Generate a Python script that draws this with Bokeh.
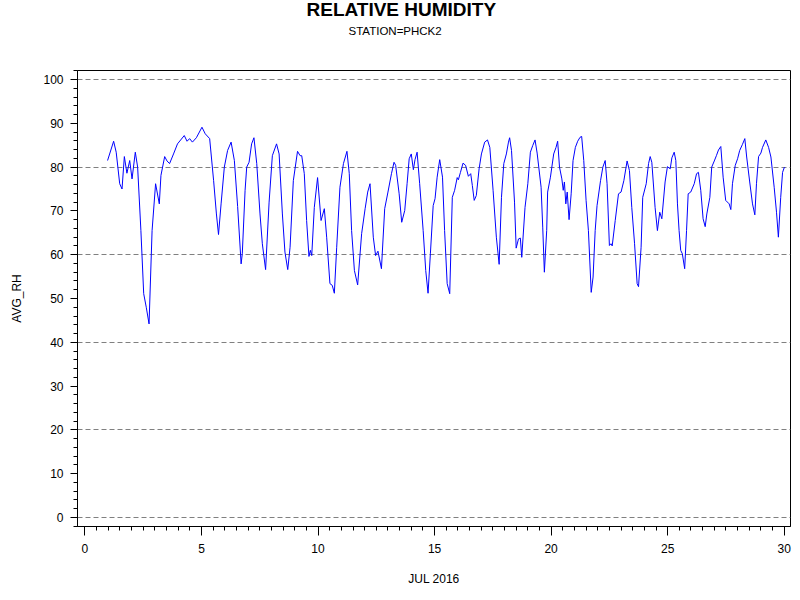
from bokeh.plotting import figure
from bokeh.models import Range1d, SingleIntervalTicker, FixedTicker, Title
from bokeh.embed import file_html
from bokeh.resources import INLINE

# day of month (JUL 2016) and average relative humidity
day = [0.97, 1.23, 1.34, 1.49, 1.59, 1.69, 1.80, 1.92, 2.02, 2.16, 2.26, 2.40, 2.52, 2.63, 2.75,
       2.88, 3.03, 3.19, 3.26, 3.42, 3.52, 3.63, 3.80, 3.97, 4.26, 4.38, 4.49, 4.61, 4.78, 5.02,
       5.16, 5.35, 5.52, 5.64, 5.73, 5.84, 5.98, 6.12, 6.27, 6.41, 6.55, 6.70, 6.75, 6.87, 6.94,
       7.04, 7.15, 7.25, 7.37, 7.51, 7.61, 7.75, 7.90, 8.04, 8.22, 8.33, 8.47, 8.58, 8.70, 8.80,
       8.94, 9.12, 9.23, 9.30, 9.41, 9.51, 9.61, 9.67, 9.73, 9.84, 9.98, 10.13, 10.27, 10.37, 10.51,
       10.61, 10.70, 10.80, 10.94, 11.09, 11.24, 11.34, 11.44, 11.56, 11.70, 11.87, 12.02, 12.13, 12.23, 12.37,
       12.47, 12.57, 12.72, 12.86, 13.00, 13.15, 13.26, 13.33, 13.48, 13.59, 13.72, 13.82, 13.91, 14.00, 14.09,
       14.16, 14.25, 14.36, 14.51, 14.62, 14.72, 14.82, 14.94, 15.02, 15.11, 15.22, 15.34, 15.43, 15.54, 15.65,
       15.76, 15.86, 15.97, 16.02, 16.11, 16.22, 16.33, 16.45, 16.55, 16.62, 16.70, 16.79, 16.91, 17.01, 17.15,
       17.27, 17.37, 17.51, 17.65, 17.77, 17.87, 17.97, 18.08, 18.17, 18.22, 18.30, 18.43, 18.50, 18.60, 18.68,
       18.74, 18.88, 19.00, 19.11, 19.21, 19.31, 19.40, 19.57, 19.64, 19.71, 19.81, 19.85, 19.97, 20.11, 20.21,
       20.28, 20.36, 20.46, 20.52, 20.57, 20.63, 20.69, 20.77, 20.86, 20.94, 21.04, 21.14, 21.24, 21.31, 21.40,
       21.50, 21.60, 21.72, 21.80, 21.89, 21.97, 22.12, 22.22, 22.32, 22.40, 22.50, 22.57, 22.62, 22.75, 22.89,
       23.00, 23.12, 23.26, 23.36, 23.46, 23.58, 23.69, 23.75, 23.86, 23.93, 24.08, 24.18, 24.25, 24.32, 24.46,
       24.56, 24.66, 24.75, 24.89, 24.99, 25.11, 25.18, 25.28, 25.35, 25.42, 25.49, 25.56, 25.63, 25.73, 25.81,
       25.88, 25.99, 26.14, 26.24, 26.32, 26.42, 26.52, 26.61, 26.68, 26.81, 26.89, 27.00, 27.09, 27.18, 27.28,
       27.38, 27.49, 27.64, 27.71, 27.78, 27.90, 28.00, 28.09, 28.21, 28.31, 28.39, 28.52, 28.64, 28.74, 28.81,
       28.90, 29.00, 29.07, 29.21, 29.33, 29.43, 29.57, 29.67, 29.75, 29.85, 29.93, 30.01]

avg_rh = [81.5, 85.9, 83.4, 76.2, 75.0, 82.4, 78.6, 81.5, 77.3, 83.4, 80.0, 65.5, 51.1, 48.0, 44.2,
          65.5, 76.2, 71.6, 78.1, 82.4, 81.4, 80.8, 83.0, 85.3, 87.2, 85.9, 86.5, 85.7, 86.7, 89.1,
          87.6, 86.5, 76.9, 69.3, 64.6, 71.6, 80.0, 83.8, 85.7, 81.5, 71.0, 57.9, 60.2, 74.7, 80.0,
          81.1, 85.3, 86.7, 80.8, 69.3, 62.5, 56.6, 72.0, 82.6, 85.3, 83.0, 69.3, 60.6, 56.6, 61.7,
          76.9, 83.6, 82.6, 82.6, 78.5, 67.8, 59.6, 61.0, 59.8, 70.8, 77.6, 67.8, 70.5, 64.0, 53.4,
          53.0, 51.2, 61.7, 75.4, 80.8, 83.6, 78.5, 65.5, 56.4, 53.1, 64.8, 70.5, 74.3, 76.2, 64.0,
          59.8, 60.8, 56.8, 70.5, 74.3, 78.5, 81.1, 80.4, 73.9, 67.4, 70.1, 76.2, 81.9, 83.0, 79.4,
          81.7, 83.4, 76.2, 65.5, 56.4, 51.2, 60.2, 71.2, 72.8, 77.7, 81.7, 77.7, 65.5, 53.4, 51.1,
          73.1, 74.7, 77.6, 77.1, 78.8, 80.9, 80.4, 77.9, 78.5, 75.8, 72.4, 73.5, 79.6, 83.0, 85.7,
          86.2, 84.5, 74.7, 64.0, 57.8, 73.1, 80.8, 83.0, 85.7, 86.7, 83.8, 72.0, 61.5, 63.6, 63.8,
          59.4, 70.8, 76.2, 83.4, 84.9, 86.2, 83.2, 75.4, 66.3, 56.0, 65.5, 74.3, 77.7, 83.0, 84.5,
          85.9, 80.0, 77.3, 74.7, 76.6, 71.6, 74.3, 68.0, 73.9, 81.5, 84.5, 85.9, 86.8, 87.0, 81.5,
          72.4, 65.5, 51.4, 54.9, 65.5, 71.2, 76.9, 80.0, 81.5, 76.2, 62.1, 62.5, 62.0, 67.8, 73.9,
          74.3, 76.9, 81.4, 79.2, 70.8, 62.5, 53.4, 52.7, 61.7, 73.1, 76.2, 80.8, 82.4, 81.1, 70.8,
          65.5, 69.7, 68.2, 76.6, 80.1, 79.6, 82.1, 83.4, 81.5, 71.6, 65.5, 61.0, 60.2, 56.8, 65.5,
          73.9, 74.3, 76.2, 78.5, 78.8, 74.7, 68.2, 66.4, 69.3, 73.1, 80.0, 81.4, 82.6, 83.9, 84.7,
          77.7, 72.4, 71.6, 70.3, 76.2, 80.4, 81.9, 83.8, 85.2, 86.5, 82.3, 76.6, 71.6, 69.1, 76.2,
          82.4, 83.2, 84.5, 86.2, 84.5, 82.3, 75.4, 69.7, 64.0, 73.1, 78.8, 80.0]

grid_ticks = [0, 20, 40, 60, 80, 100]

FONT = "Liberation Sans"

# frame: 77..790 across, 70..526 down
p = figure(width=792, height=592,
           x_range=Range1d(-0.32, 30.27), y_range=Range1d(-2.05, 102.05),
           x_axis_label="JUL 2016", y_axis_label="AVG_RH",
           output_backend="svg", toolbar_location=None, tools="",
           min_border_left=77, min_border_right=2, min_border_top=70, min_border_bottom=66)

# titles stack upward from the frame: blank spacer, subtitle, then main title.
# they are centred on the page (x=400), not on the frame, so left-aligned with an offset
p.add_layout(Title(text=" ", text_font_size="10px", standoff=14), "above")
p.add_layout(Title(text="STATION=PHCK2", align="left", offset=271, text_font=FONT,
                   text_font_size="11.5px", text_font_style="normal",
                   text_color="black", standoff=13), "above")
p.add_layout(Title(text="RELATIVE HUMIDITY", align="left", offset=229, text_font=FONT,
                   text_font_size="19px", text_font_style="bold",
                   text_color="black", standoff=-7), "above")

p.line(day, avg_rh, line_color="#0000ff", line_width=1)

p.outline_line_color = "black"
p.outline_line_alpha = 1
p.outline_line_width = 1
p.background_fill_color = "white"
p.border_fill_color = "white"

# dashed reference lines every 20
p.xgrid.visible = False
p.ygrid.ticker = FixedTicker(ticks=grid_ticks)
p.ygrid.grid_line_color = "#808080"
p.ygrid.grid_line_dash = "5 3"
p.ygrid.grid_line_width = 1

p.xaxis.ticker = SingleIntervalTicker(interval=5, num_minor_ticks=10)
p.yaxis.ticker = SingleIntervalTicker(interval=10, num_minor_ticks=5)

for ax in [p.xaxis, p.yaxis]:
    ax.axis_line_color = "black"
    ax.major_tick_line_color = "black"
    ax.minor_tick_line_color = "black"
    ax.major_tick_in = 0
    ax.minor_tick_in = 0
    ax.major_label_text_font = FONT
    ax.major_label_text_font_size = "12px"
    ax.major_label_text_color = "black"
    ax.axis_label_text_font = FONT
    ax.axis_label_text_font_size = "12px"
    ax.axis_label_text_font_style = "normal"
    ax.axis_label_text_color = "black"

p.xaxis.major_tick_out = 9
p.xaxis.minor_tick_out = 4
p.xaxis.major_label_standoff = 8
p.xaxis.axis_label_standoff = 16
p.yaxis.major_tick_out = 7
p.yaxis.minor_tick_out = 4
p.yaxis.major_label_standoff = 7
p.yaxis.axis_label_standoff = 16

open("out.html", "w").write(file_html(p, INLINE))
